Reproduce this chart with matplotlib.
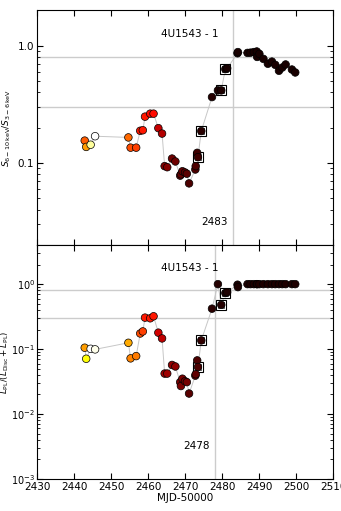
import matplotlib
matplotlib.use("Agg")
import matplotlib.pyplot as plt
import matplotlib.transforms as mtransforms
from matplotlib.ticker import FixedLocator, FixedFormatter
import numpy as np

# MJD-50000 of each observation
mjd = [2442.9, 2443.3, 2444.5, 2445.7, 2454.7, 2455.3, 2456.8, 2457.9, 2458.6,
       2459.2, 2460.6, 2461.5, 2462.8, 2463.8, 2464.5, 2465.2, 2466.5, 2467.4,
       2468.7, 2468.9, 2469.3, 2470.0, 2470.5, 2471.1, 2472.8, 2472.9, 2473.3,
       2473.5, 2474.4, 2477.3, 2478.9, 2479.8, 2480.9, 2481.4, 2484.2, 2484.3,
       2486.9, 2487.7, 2488.6, 2489.4, 2489.5, 2490.1, 2491.2, 2492.4, 2493.5,
       2494.4, 2495.4, 2496.3, 2497.2, 2498.9, 2499.8]

# hardness ratio S(6-10 keV)/S(3-6 keV)
hard = [0.155, 0.137, 0.143, 0.169, 0.165, 0.135, 0.135, 0.188, 0.19,
        0.248, 0.263, 0.263, 0.198, 0.178, 0.094, 0.092, 0.109, 0.103,
        0.078, 0.080, 0.085, 0.083, 0.081, 0.067, 0.088, 0.094, 0.122,
        0.112, 0.187, 0.364, 0.415, 0.415, 0.63, 0.64, 0.86, 0.88,
        0.866, 0.87, 0.88, 0.89, 0.80, 0.85, 0.77, 0.70, 0.73,
        0.685, 0.61, 0.65, 0.69, 0.625, 0.59]

# power-law fraction L_PL/(L_Disc+L_PL)
plfrac = [0.105, 0.071, 0.101, 0.099, 0.125, 0.072, 0.078, 0.174, 0.187,
          0.305, 0.298, 0.32, 0.179, 0.146, 0.042, 0.042, 0.057, 0.054,
          0.031, 0.027, 0.035, 0.032, 0.031, 0.0207, 0.039, 0.041, 0.067,
          0.053, 0.136, 0.419, 1.0, 0.48, 0.73, 0.75, 0.98, 0.9,
          1.0, 1.0, 1.0, 1.0, 1.0, 1.0, 1.0, 1.0, 1.0,
          1.0, 1.0, 1.0, 1.0, 1.0, 1.0]

# colour value (hot colormap) per point, each panel
col_top = [0.5, 0.6, 0.9, 1.0, 0.52, 0.48, 0.46, 0.4, 0.4,
           0.4, 0.38, 0.38, 0.28, 0.25, 0.18, 0.18, 0.15, 0.15,
           0.13, 0.13, 0.13, 0.12, 0.12, 0.1, 0.1, 0.1, 0.08,
           0.08, 0.05, 0.04, 0.03, 0.03, 0.02, 0.02, 0.02, 0.02,
           0.02, 0.02, 0.02, 0.02, 0.02, 0.02, 0.02, 0.02, 0.02,
           0.02, 0.02, 0.02, 0.02, 0.02, 0.02]
col_bot = [0.6, 0.75, 1.0, 0.98, 0.62, 0.56, 0.55, 0.48, 0.46,
           0.4, 0.4, 0.4, 0.3, 0.27, 0.22, 0.22, 0.2, 0.2,
           0.17, 0.17, 0.17, 0.16, 0.16, 0.12, 0.13, 0.13, 0.1,
           0.1, 0.06, 0.05, 0.04, 0.04, 0.03, 0.03, 0.03, 0.03,
           0.03, 0.03, 0.03, 0.03, 0.03, 0.03, 0.03, 0.03, 0.03,
           0.03, 0.03, 0.03, 0.03, 0.03, 0.03]

# indices of points marked with squares
sq_idx = [27, 28, 31, 32]

vline_top = 2483
vline_bot = 2478
hlines = [0.8, 0.3]

mjd = np.array(mjd)
hard = np.array(hard)
plfrac = np.array(plfrac)

fig = plt.figure(figsize=(3.41, 5.11), dpi=100)
ax1 = fig.add_axes([0.1085, 0.5205, 0.868, 0.4595])
ax2 = fig.add_axes([0.1085, 0.0626, 0.868, 0.4579], sharex=ax1)

def panel(ax, y, c, vl):
    ax.set_yscale('log')
    ax.axvline(vl, color='0.8', lw=1, zorder=0)
    for h in hlines:
        ax.axhline(h, color='0.8', lw=1, zorder=0)
    ax.plot(mjd, y, '-', color='0.78', lw=0.7, zorder=1)
    ax.plot(mjd[sq_idx], y[sq_idx], 's', ms=7.5, mfc='0.45', mec='k', mew=0.8, zorder=2)
    ax.plot(mjd[sq_idx], y[sq_idx], 's', ms=5.8, mfc='none', mec='w', mew=0.7, zorder=2)
    ax.scatter(mjd, y, c=c, cmap='hot', vmin=0, vmax=1, s=30,
               edgecolors='k', linewidths=0.5, zorder=3)
    ax.text(0.42, 0.9, '4U1543 - 1', transform=ax.transAxes, fontsize=7.5,
            va='center', ha='left')
    tr = mtransforms.blended_transform_factory(ax.transData, ax.transAxes)
    ax.tick_params(which='both', direction='in', top=True, right=True, labelsize=7.5)
    ax.tick_params(which='major', length=4, pad=2)
    ax.tick_params(which='minor', length=2)
    return tr

tr1 = panel(ax1, hard, col_top, vline_top)
ax1.set_ylim(0.02, 2.0)
ax1.yaxis.set_major_locator(FixedLocator([0.1, 1.0]))
ax1.yaxis.set_major_formatter(FixedFormatter(['0.1', '1.0']))
ax1.set_ylabel(r'$S_{6-10\,\rm keV}/S_{3-6\,\rm keV}$', fontsize=6.5)
ax1.yaxis.set_label_coords(-0.082, 0.5)
ax1.text(vline_top - 8.5, 0.1, '2483', transform=tr1, fontsize=7.5, va='center')
plt.setp(ax1.get_xticklabels(), visible=False)

tr2 = panel(ax2, plfrac, col_bot, vline_bot)
ax2.set_ylim(1e-3, 4)
ax2.set_ylabel(r'$L_{\rm PL}/(L_{\rm Disc}+L_{\rm PL})$', fontsize=6.2)
ax2.yaxis.set_label_coords(-0.087, 0.5)
ax2.tick_params(axis='y', labelsize=7, pad=1.5)
ax2.text(vline_bot - 8.5, 0.14, '2478', transform=tr2, fontsize=7.5, va='center')

ax2.set_xlim(2430, 2510)
ax2.set_xticks(np.arange(2430, 2511, 10))
ax2.set_xlabel('MJD-50000', fontsize=7.5, labelpad=1)

fig.savefig('out.png', dpi=100)
